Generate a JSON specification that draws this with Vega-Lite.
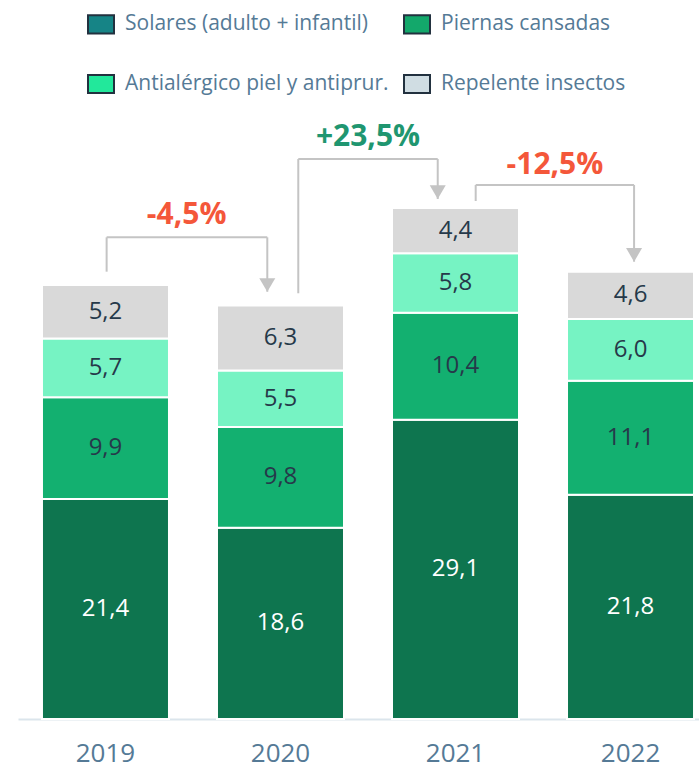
{
  "$schema": "https://vega.github.io/schema/vega-lite/v6.json",
  "width": 681,
  "height": 617,
  "autosize": {"type": "none"},
  "padding": {"left": 18, "top": 102, "right": 0, "bottom": 49},
  "config": {
    "view": {"stroke": null},
    "font": "Open Sans",
    "locale": {"number": {"decimal": ",", "thousands": ".", "grouping": [3], "currency": ["", " €"]}}
  },
  "datasets": {
    "bars": [
      {"year": "2019", "cat": "Solares (adulto + infantil)", "k": 1, "v": 21.4},
      {"year": "2019", "cat": "Piernas cansadas", "k": 2, "v": 9.9},
      {"year": "2019", "cat": "Antialérgico piel y antiprur.", "k": 3, "v": 5.7},
      {"year": "2019", "cat": "Repelente insectos", "k": 4, "v": 5.2},
      {"year": "2020", "cat": "Solares (adulto + infantil)", "k": 1, "v": 18.6},
      {"year": "2020", "cat": "Piernas cansadas", "k": 2, "v": 9.8},
      {"year": "2020", "cat": "Antialérgico piel y antiprur.", "k": 3, "v": 5.5},
      {"year": "2020", "cat": "Repelente insectos", "k": 4, "v": 6.3},
      {"year": "2021", "cat": "Solares (adulto + infantil)", "k": 1, "v": 29.1},
      {"year": "2021", "cat": "Piernas cansadas", "k": 2, "v": 10.4},
      {"year": "2021", "cat": "Antialérgico piel y antiprur.", "k": 3, "v": 5.8},
      {"year": "2021", "cat": "Repelente insectos", "k": 4, "v": 4.4},
      {"year": "2022", "cat": "Solares (adulto + infantil)", "k": 1, "v": 21.8},
      {"year": "2022", "cat": "Piernas cansadas", "k": 2, "v": 11.1},
      {"year": "2022", "cat": "Antialérgico piel y antiprur.", "k": 3, "v": 6.0},
      {"year": "2022", "cat": "Repelente insectos", "k": 4, "v": 4.6}
    ],
    "brackets": [
      {"from": "2019", "to": "2020", "label": "-4,5%", "dir": "down", "lo": 43.5, "top": 46.84, "tip": 41.55, "ly": 49.01},
      {"from": "2020", "to": "2021", "label": "+23,5%", "dir": "up", "lo": 41.4, "top": 54.46, "tip": 50.57, "ly": 56.6},
      {"from": "2021", "to": "2022", "label": "-12,5%", "dir": "down", "lo": 50.37, "top": 51.93, "tip": 44.47, "ly": 53.87}
    ]
  },
  "layer": [
    {
      "data": {"name": "bars"},
      "mark": {"type": "bar", "stroke": "white", "strokeWidth": 2},
      "encoding": {
        "x": {
          "field": "year", "type": "nominal", "title": null,
          "scale": {"domain": ["2019", "2020", "2021", "2022"], "range": [0, 700], "paddingInner": 0.2743, "paddingOuter": 0.137},
          "axis": {"ticks": false, "domainColor": "#dbe5ec", "domainWidth": 2, "labelFontSize": 26, "labelColor": "#557a96", "labelPadding": 21, "labelAngle": 0, "labelFont": "Open Sans"}
        },
        "y": {"field": "v", "type": "quantitative", "stack": "zero", "scale": {"domain": [0, 60]}, "axis": null},
        "color": {
          "field": "cat", "type": "nominal",
          "scale": {"domain": ["Solares (adulto + infantil)", "Piernas cansadas", "Antialérgico piel y antiprur.", "Repelente insectos"], "range": ["#0e754f", "#13b070", "#76f3c3", "#d9d9d9"]},
          "legend": null
        },
        "order": {"field": "k", "type": "quantitative"}
      }
    },
    {
      "data": {"name": "bars"},
      "mark": {"type": "bar", "opacity": 0},
      "encoding": {
        "x": {"field": "year", "type": "nominal"},
        "y": {"field": "v", "type": "quantitative", "stack": "zero"},
        "color": {
          "field": "cat", "type": "nominal",
          "scale": {"domain": ["Solares (adulto + infantil)", "Piernas cansadas", "Antialérgico piel y antiprur.", "Repelente insectos"], "range": ["#168486", "#13a86b", "#22e89b", "#d0dde3"]},
          "legend": {
            "title": null, "orient": "none", "legendX": 69, "legendY": -92, "columns": 2, "direction": "horizontal",
            "columnPadding": 11, "rowPadding": 32,
            "symbolType": "M-1,-0.7H1V0.7H-1Z", "symbolSize": 676,
            "labelFontSize": 21, "labelColor": "#557a96", "labelFont": "Open Sans", "labelOffset": 10, "labelLimit": 400,
            "encode": {"symbols": {"update": {"stroke": {"value": "#22313f"}, "strokeWidth": {"value": 2}, "opacity": {"value": 1}, "fillOpacity": {"value": 1}}}}
          }
        },
        "order": {"field": "k", "type": "quantitative"}
      }
    },
    {
      "data": {"name": "bars"},
      "mark": {"type": "text", "fontSize": 24, "font": "Open Sans", "baseline": "middle"},
      "encoding": {
        "x": {"field": "year", "type": "nominal"},
        "y": {"field": "v", "type": "quantitative", "stack": "zero", "bandPosition": 0.5},
        "detail": {"field": "cat"},
        "order": {"field": "k", "type": "quantitative"},
        "text": {"field": "v", "type": "quantitative", "format": ".1f"},
        "color": {"condition": {"test": "datum.k === 1", "value": "#ffffff"}, "value": "#26394a"}
      }
    },
    {
      "data": {"name": "brackets"},
      "transform": [{"filter": "datum.from === '2019'"}],
      "layer": [
        {"mark": {"type": "rule", "color": "#c4c4c4", "strokeWidth": 2}, "encoding": {"x": {"field": "from", "type": "nominal", "bandPosition": 0.509}, "y": {"field": "lo", "type": "quantitative"}, "y2": {"field": "top"}}},
        {"mark": {"type": "rule", "color": "#c4c4c4", "strokeWidth": 2}, "encoding": {"x": {"field": "from", "type": "nominal", "bandPosition": 0.509}, "x2": {"field": "to", "bandPosition": 0.396}, "y": {"field": "top", "type": "quantitative"}}},
        {"mark": {"type": "rule", "color": "#c4c4c4", "strokeWidth": 2}, "encoding": {"x": {"field": "to", "type": "nominal", "bandPosition": 0.396}, "y": {"field": "top", "type": "quantitative"}, "y2": {"field": "tip"}}},
        {"mark": {"type": "point", "shape": "M-1,-0.85L1,-0.85L0,0.85Z", "size": 256, "filled": true, "opacity": 1, "color": "#c4c4c4", "yOffset": -6.8}, "encoding": {"x": {"field": "to", "type": "nominal", "bandPosition": 0.396}, "y": {"field": "tip", "type": "quantitative"}}},
        {"mark": {"type": "text", "font": "Open Sans", "fontWeight": "bold", "fontSize": 30, "baseline": "middle"}, "encoding": {"x": {"field": "from", "type": "nominal", "bandPosition": 1.139}, "y": {"field": "ly", "type": "quantitative"}, "text": {"field": "label"}, "color": {"condition": {"test": "datum.dir === 'up'", "value": "#1f9670"}, "value": "#f4573a"}}}
      ]
    },
    {
      "data": {"name": "brackets"},
      "transform": [{"filter": "datum.from === '2020'"}],
      "layer": [
        {"mark": {"type": "rule", "color": "#c4c4c4", "strokeWidth": 2}, "encoding": {"x": {"field": "from", "type": "nominal", "bandPosition": 0.64}, "y": {"field": "lo", "type": "quantitative"}, "y2": {"field": "top"}}},
        {"mark": {"type": "rule", "color": "#c4c4c4", "strokeWidth": 2}, "encoding": {"x": {"field": "from", "type": "nominal", "bandPosition": 0.64}, "x2": {"field": "to", "bandPosition": 0.36}, "y": {"field": "top", "type": "quantitative"}}},
        {"mark": {"type": "rule", "color": "#c4c4c4", "strokeWidth": 2}, "encoding": {"x": {"field": "to", "type": "nominal", "bandPosition": 0.36}, "y": {"field": "top", "type": "quantitative"}, "y2": {"field": "tip"}}},
        {"mark": {"type": "point", "shape": "M-1,-0.85L1,-0.85L0,0.85Z", "size": 256, "filled": true, "opacity": 1, "color": "#c4c4c4", "yOffset": -6.8}, "encoding": {"x": {"field": "to", "type": "nominal", "bandPosition": 0.36}, "y": {"field": "tip", "type": "quantitative"}}},
        {"mark": {"type": "text", "font": "Open Sans", "fontWeight": "bold", "fontSize": 30, "baseline": "middle"}, "encoding": {"x": {"field": "from", "type": "nominal", "bandPosition": 1.189}, "y": {"field": "ly", "type": "quantitative"}, "text": {"field": "label"}, "color": {"condition": {"test": "datum.dir === 'up'", "value": "#1f9670"}, "value": "#f4573a"}}}
      ]
    },
    {
      "data": {"name": "brackets"},
      "transform": [{"filter": "datum.from === '2021'"}],
      "layer": [
        {"mark": {"type": "rule", "color": "#c4c4c4", "strokeWidth": 2}, "encoding": {"x": {"field": "from", "type": "nominal", "bandPosition": 0.659}, "y": {"field": "lo", "type": "quantitative"}, "y2": {"field": "top"}}},
        {"mark": {"type": "rule", "color": "#c4c4c4", "strokeWidth": 2}, "encoding": {"x": {"field": "from", "type": "nominal", "bandPosition": 0.659}, "x2": {"field": "to", "bandPosition": 0.528}, "y": {"field": "top", "type": "quantitative"}}},
        {"mark": {"type": "rule", "color": "#c4c4c4", "strokeWidth": 2}, "encoding": {"x": {"field": "to", "type": "nominal", "bandPosition": 0.528}, "y": {"field": "top", "type": "quantitative"}, "y2": {"field": "tip"}}},
        {"mark": {"type": "point", "shape": "M-1,-0.85L1,-0.85L0,0.85Z", "size": 256, "filled": true, "opacity": 1, "color": "#c4c4c4", "yOffset": -6.8}, "encoding": {"x": {"field": "to", "type": "nominal", "bandPosition": 0.528}, "y": {"field": "tip", "type": "quantitative"}}},
        {"mark": {"type": "text", "font": "Open Sans", "fontWeight": "bold", "fontSize": 30, "baseline": "middle"}, "encoding": {"x": {"field": "from", "type": "nominal", "bandPosition": 1.283}, "y": {"field": "ly", "type": "quantitative"}, "text": {"field": "label"}, "color": {"condition": {"test": "datum.dir === 'up'", "value": "#1f9670"}, "value": "#f4573a"}}}
      ]
    }
  ],
  "resolve": {"scale": {"color": "independent"}}
}
